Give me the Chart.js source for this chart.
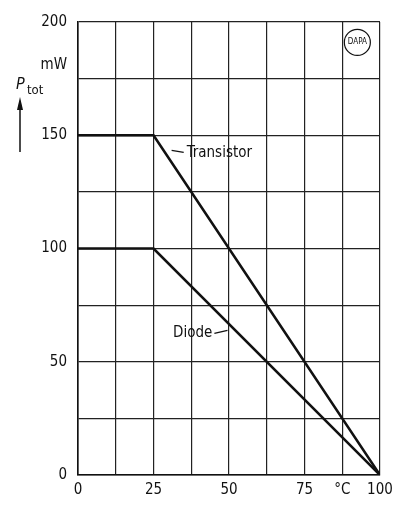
<!DOCTYPE html>
<html>
<head>
<meta charset="utf-8">
<script src="https://cdn.jsdelivr.net/npm/chart.js@4"></script>
<style>
  html, body { margin: 0; padding: 0; background: #fff; }
  #wrap { width: 401px; height: 507px; }
</style>
</head>
<body>
<div id="wrap"><canvas id="derating"></canvas></div>
<script>
// ambient temperature (°C) break points and power (mW)
var temps = [0, 25, 100];
var transistor = [150, 150, 0];
var diode = [100, 100, 0];
var xTicksShown = [0, 25, 50, 75, 100];
var yTicksShown = [0, 50, 100, 150, 200];

var FONT = '"DejaVu Sans Condensed", "DejaVu Sans", sans-serif';

function toPoints(ys) {
    var pts = [];
    for (var i in temps) {
        pts.push({x: temps[i], y: ys[i]});
    }
    return pts;
}

// extra labels, leader lines, Ptot and the little logo
var extras = {
    id: 'extras',
    afterDraw: function(chart) {
        var c = chart.ctx;
        var xs = chart.scales.x, ys = chart.scales.y;
        c.save();
        c.fillStyle = '#111';
        c.strokeStyle = '#111';
        c.font = '15px ' + FONT;

        // mW unit
        c.textAlign = 'right';
        c.textBaseline = 'middle';
        c.fillText('mW', 67, ys.getPixelForValue(175) - 14);

        // P_tot with arrow
        c.textAlign = 'left';
        c.font = 'italic 16px ' + FONT;
        c.fillText('P', 16, 85);
        c.font = '13px ' + FONT;
        c.fillText('tot', 27, 91);
        c.lineWidth = 1.5;
        c.beginPath();
        c.moveTo(20, 106);
        c.lineTo(20, 152);
        c.stroke();
        c.beginPath();
        c.moveTo(20, 97);
        c.lineTo(17, 110);
        c.lineTo(23, 110);
        c.closePath();
        c.fill();

        // Transistor label
        c.font = '15px ' + FONT;
        c.lineWidth = 1.2;
        var tx = xs.getPixelForValue(36), ty = ys.getPixelForValue(142);
        c.beginPath();
        c.moveTo(xs.getPixelForValue(31), ty - 3);
        c.lineTo(tx - 3, ty - 1);
        c.stroke();
        c.textAlign = 'left';
        c.fillText('Transistor', tx, ty);

        // Diode label
        var dx = xs.getPixelForValue(44.5), dy = ys.getPixelForValue(62.5);
        c.textAlign = 'right';
        c.fillText('Diode', dx, dy);
        c.beginPath();
        c.moveTo(dx + 2, dy);
        c.lineTo(xs.getPixelForValue(49.5), dy - 3);
        c.stroke();

        // DAPA mark
        var lx = xs.getPixelForValue(92.5), ly = ys.getPixelForValue(191);
        c.lineWidth = 1.2;
        c.beginPath();
        c.arc(lx, ly, 13, 0, Math.PI * 2);
        c.fillStyle = '#fff';
        c.fill();
        c.stroke();
        c.fillStyle = '#111';
        c.font = '8px ' + FONT;
        c.textAlign = 'center';
        c.fillText('DAPA', lx, ly);
        c.restore();
    }
};

var ctx = document.getElementById('derating');
var chart = new Chart(ctx, {
    type: 'line',
    data: {
        datasets: [{
            label: 'Transistor',
            data: toPoints(transistor),
            borderColor: '#111',
            borderWidth: 2.6,
            pointRadius: 0,
            tension: 0
        }, {
            label: 'Diode',
            data: toPoints(diode),
            borderColor: '#111',
            borderWidth: 2.6,
            pointRadius: 0,
            tension: 0
        }]
    },
    options: {
        responsive: true,
        maintainAspectRatio: false,
        animation: false,
        layout: { padding: { left: 0, right: 21, top: 22, bottom: 0 } },
        plugins: {
            legend: { display: false },
            tooltip: { enabled: false }
        },
        scales: {
            x: {
                type: 'linear',
                min: 0,
                max: 100,
                ticks: {
                    stepSize: 12.5,
                    autoSkip: false,
                    maxRotation: 0,
                    color: '#111',
                    padding: 6,
                    font: { family: FONT, size: 15 },
                    callback: function(v) {
                        if (xTicksShown.indexOf(v) >= 0) return String(v);
                        if (v === 87.5) return '°C';
                        return '';
                    }
                },
                grid: { color: '#222', lineWidth: 1.2, drawTicks: false },
                border: { color: '#111', width: 1.6 },
                afterFit: function(s) { s.height = 32; }
            },
            y: {
                min: 0,
                max: 200,
                ticks: {
                    stepSize: 25,
                    autoSkip: false,
                    color: '#111',
                    padding: 11,
                    font: { family: FONT, size: 15 },
                    callback: function(v) {
                        return yTicksShown.indexOf(v) >= 0 ? String(v) : '';
                    }
                },
                grid: { color: '#222', lineWidth: 1.2, drawTicks: false },
                border: { color: '#111', width: 1.6 },
                afterFit: function(s) { s.width = 78; }
            }
        }
    },
    plugins: [extras]
});
</script>
</body>
</html>
